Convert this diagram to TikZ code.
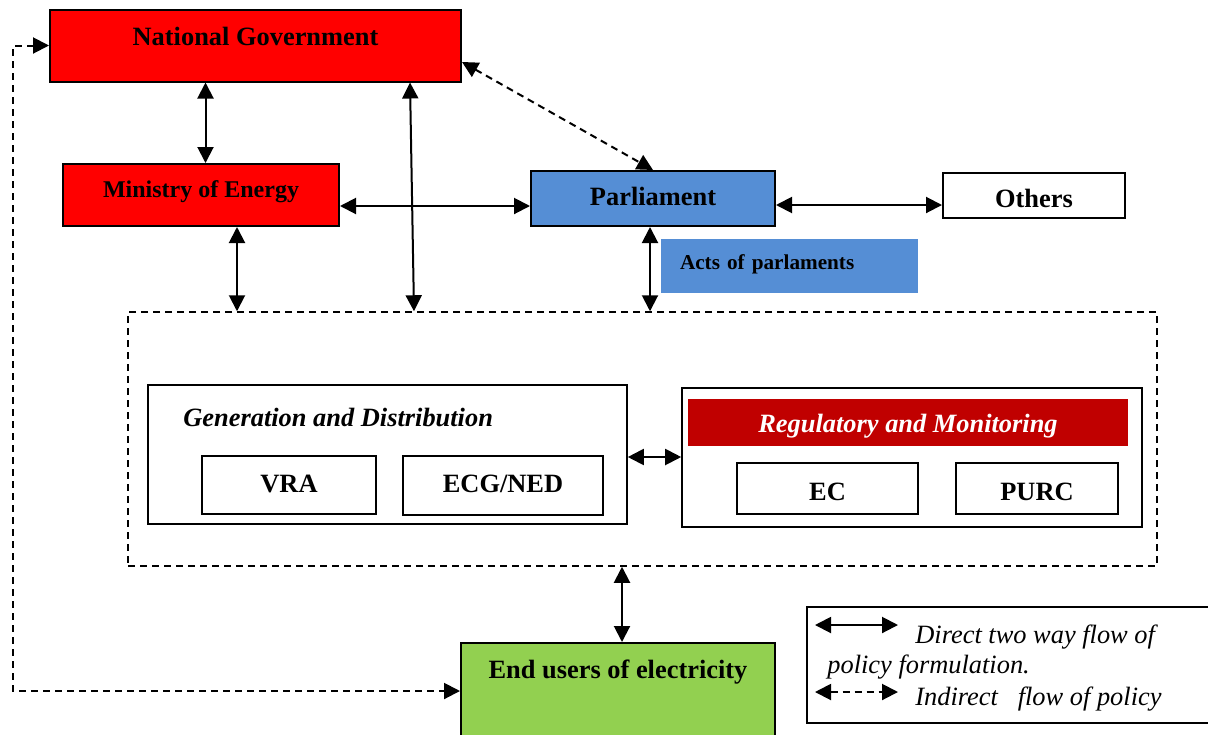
\documentclass[tikz,border=0pt]{standalone}
\usepackage{fontspec}
\setmainfont{Liberation Serif}
\usetikzlibrary{arrows.meta}
\definecolor{govred}{HTML}{FF0000}
\definecolor{parlblue}{HTML}{558ED5}
\definecolor{regred}{HTML}{C00000}
\definecolor{usergreen}{HTML}{92D050}

\begin{document}
\begin{tikzpicture}[x=0.5pt,y=-0.5pt,
  box/.style={draw, line width=1pt, inner sep=0pt, font=\fontsize{13.2}{15}\bfseries},
  subbox/.style={draw, line width=0.8pt, inner sep=0pt, font=\fontsize{13.2}{15}\bfseries},
  flow/.style={line width=1pt, {Triangle[length=8pt,width=8pt]}-{Triangle[length=8pt,width=8pt]}},
  indflow/.style={flow, dash pattern=on 3.5pt off 2.5pt}]
  \useasboundingbox (0,0) rectangle (1208,734);
  \clip (0,0) rectangle (1208,734);

  \node[box, fill=govred, minimum width=205.5pt, minimum height=36pt, text height=9pt, text depth=9pt] (ng) at (255.5,45.5) {National Government};
  \node[box, fill=govred, minimum width=138pt, minimum height=31pt, font=\fontsize{12}{14}\bfseries, text height=8pt, text depth=6pt] (me) at (201,195) {Ministry of Energy};
  \node[box, fill=parlblue, minimum width=122pt, minimum height=27.5pt, text height=9pt, text depth=1.8pt] (parl) at (653,198.5) {Parliament};
  \node[box, minimum width=91pt, minimum height=22.5pt, text height=12pt, text depth=0pt] (others) at (1034,195.5) {Others};
  \node[fill=parlblue, minimum height=27pt, text width=109.5pt, inner xsep=9.5pt, inner ysep=0pt, align=left, font=\fontsize{10.6}{12}\bfseries, text height=7.5pt, text depth=4.5pt] (acts) at (789.5,266) {Acts of parlaments};

  %Agencies:
  \node[draw, line width=0.75pt, dash pattern=on 3.5pt off 2.5pt, minimum width=514.5pt, minimum height=127pt] (agencies) at (642.5,439) {};
  \node[subbox, minimum width=239.5pt, minimum height=69.5pt] (gen) at (387.5,454.5) {};
  \node[anchor=base west, inner sep=0pt, font=\fontsize{13.2}{15}\bfseries\itshape] (gentitle) at (183,426) {Generation and Distribution};
  \node[subbox, minimum width=87pt, minimum height=29pt, text height=9pt, text depth=2pt] (vra) at (289,485) {VRA};
  \node[subbox, minimum width=100pt, minimum height=29.5pt, text height=9pt, text depth=2pt] (ecg) at (503,485.5) {ECG/NED};
  \node[subbox, minimum width=230pt, minimum height=69.5pt] (reg) at (912,457.5) {};
  \node[fill=regred, text=white, inner sep=0pt, minimum width=220pt, minimum height=23.5pt, font=\fontsize{13.2}{15}\bfseries\itshape, text height=10pt, text depth=0pt] (band) at (908,422.5) {Regulatory and Monitoring};
  \node[subbox, minimum width=90.5pt, minimum height=25.5pt, text height=12pt, text depth=0pt] (ec) at (827.5,488.5) {EC};
  \node[subbox, minimum width=81pt, minimum height=25.5pt, text height=12pt, text depth=0pt] (purc) at (1037,488.5) {PURC};

  \node[box, fill=usergreen, minimum width=157pt, minimum height=58.5pt, text height=9pt, text depth=32.5pt] (eu) at (618,701.5) {End users of electricity};

  %Legend:
  \node[draw, line width=0.8pt, minimum width=204pt, minimum height=58pt] (legend) at (1011,665) {};
  \coordinate (ldir1) at (815,625);
  \coordinate (ldir2) at (898,625);
  \coordinate (lind1) at (815,692);
  \coordinate (lind2) at (898,692);
  \draw[flow] (ldir1) -- (ldir2);
  \draw[indflow] (lind1) -- (lind2);
  \node[anchor=base west, inner sep=0pt, font=\fontsize{13.2}{15}\itshape] (ltxt1) at (915,643) {Direct two way flow of};
  \node[anchor=base west, inner sep=0pt, font=\fontsize{13.2}{15}\itshape] (ltxt2) at (827,673) {policy formulation.};
  \node[anchor=base west, inner sep=0pt, font=\fontsize{13.2}{15}\itshape] (ltxt3) at (915,705) {Indirect\ \ \ flow of policy};

  %Flows:
  \draw[flow] ([xshift=2.25pt]me.north) -- ([xshift=2.25pt]me.north |- ng.south);
  \draw[flow] ([xshift=77.25pt]ng.south) -- ([xshift=-114.25pt]agencies.north);
  \draw[flow] ([xshift=18pt]me.south) -- ([xshift=18pt]me.south |- agencies.north);
  \draw[flow] ([xshift=-1.5pt]parl.south) -- ([xshift=-1.5pt]parl.south |- agencies.north);
  \draw[flow] ([yshift=-5.5pt]me.east) -- ([yshift=-5.5pt]me.east -| parl.west);
  \draw[flow] ([yshift=-3.25pt]parl.east) -- ([yshift=-3.25pt]parl.east -| others.west);
  \draw[indflow] ([yshift=-8.25pt]ng.east) -- (parl.north);
  \draw[flow] ([yshift=-1.25pt]gen.east) -- ([yshift=-1.25pt]gen.east -| reg.west);
  \draw[flow] ([xshift=2pt]eu.north) -- ([xshift=2pt]eu.north |- agencies.south);
  \draw[indflow] (ng.west) -- ++(-18pt,0) |- ([yshift=5.25pt]eu.west);
\end{tikzpicture}
\end{document}
